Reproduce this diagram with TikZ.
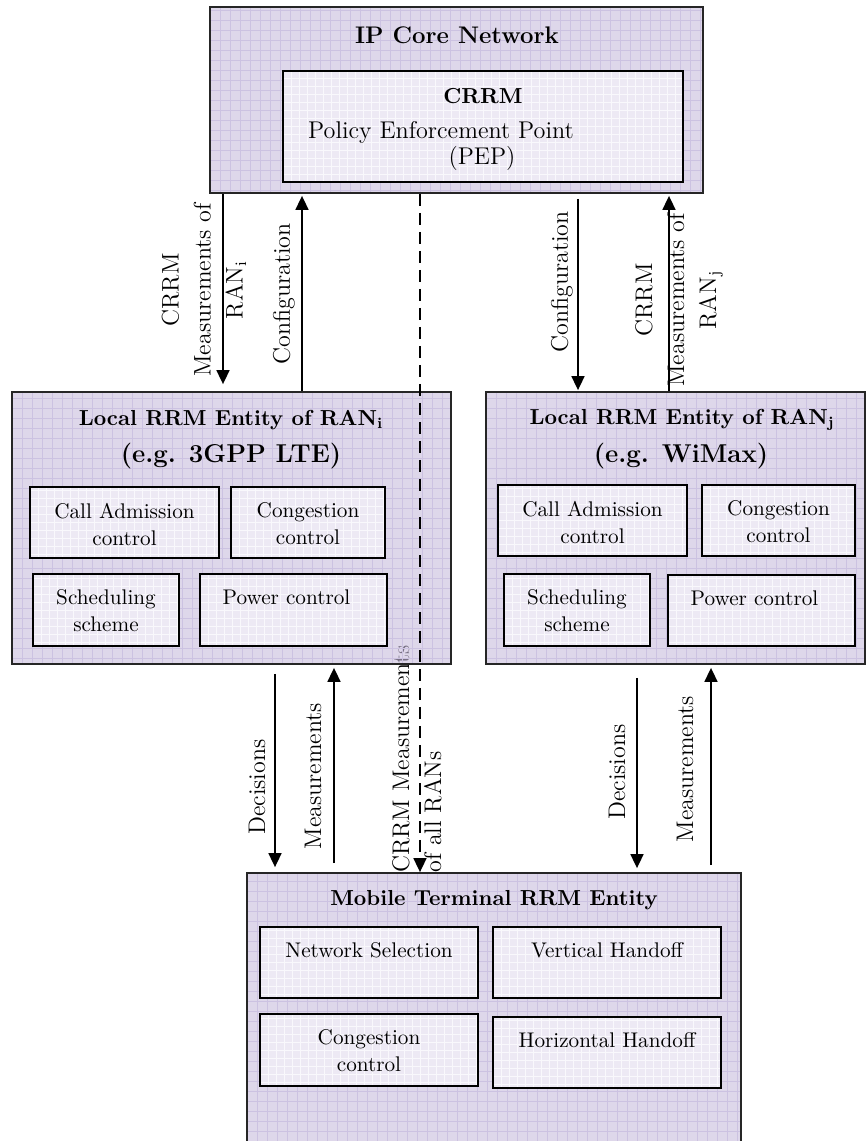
\documentclass[tikz,border=0pt]{standalone}
\usepackage{tikz}
\usetikzlibrary{arrows.meta,fit}

\definecolor{outerfill}{RGB}{200,188,220}
\definecolor{outergrid}{RGB}{204,194,225}
\definecolor{innerfill}{RGB}{237,233,244}
\definecolor{innergrid}{RGB}{249,248,252}

\newcommand{\headfont}{\fontsize{10.85}{13}\selectfont\bfseries}
\newcommand{\bigheadfont}{\fontsize{12.9}{15}\selectfont\bfseries}
\newcommand{\capfont}{\fontsize{10.6}{13.5}\selectfont}
\newcommand{\arrowfont}{\fontsize{12}{16}\selectfont}

\begin{document}
\begin{tikzpicture}[x=0.5pt,y=-0.5pt]
        \tikzset{
            style outer/.style={draw=black!85, line width=0.9pt, fill=outerfill, fill opacity=0.6, inner sep=0pt,
                path picture={\draw[outergrid, line width=0.25pt] (path picture bounding box.south west) grid[step=5pt] (path picture bounding box.north east);}},
            style inner/.style={draw=black, line width=1.4pt, fill=innerfill, inner sep=0pt,
                path picture={\draw[innergrid, line width=0.35pt] (path picture bounding box.south west) grid[step=4pt] (path picture bounding box.north east);}},
            style caption/.style={anchor=north, yshift=-8.5pt, inner sep=0pt, align=center, font=\capfont},
            style head/.style={anchor=base, inner sep=0pt, font=\headfont},
            style tag/.style={rotate=90, inner sep=0pt, align=center, font=\arrowfont},
            style flow/.style={line width=0.85pt, -{Triangle[width=6.5pt,length=7pt]}},
            style flow dashed/.style={style flow, dash pattern=on 6pt off 3.5pt}
        };
        \path[use as bounding box] (0,0) rectangle (866,1141);
        \clip (0,0) rectangle (866,1141);

        % this label sits partly under the RAN_i box
        \node[style tag, align=left, anchor=west] (all-rans) at (417,873) {CRRM Measurements\\of all RANs};

        % entities
        \node[style outer, fit={(210,7) (703,193)}] (ip) {};
        \node[style outer, fit={(12,392) (451,664)}] (lrrm-i) {};
        \node[style outer, fit={(486,392) (865,664)}] (lrrm-j) {};
        \node[style outer, fit={(247,873) (741,1150)}] (mt) {};

        \node[style inner, fit={(283,71) (683,182)}] (crrm) {};
        \node[style inner, fit={(30,487) (219,558)}, label={[style caption]north:Call Admission\\control}] (cac-i) {};
        \node[style inner, fit={(231,487) (385,558)}, label={[style caption]north:Congestion\\control}] (cc-i) {};
        \node[style inner, fit={(33,574) (179,646)}, label={[style caption]north:Scheduling\\scheme}] (sch-i) {};
        \node[style inner, fit={(200,574) (387,646)}, label={[style caption, xshift=-3.5pt]north:Power control}] (pc-i) {};
        \node[style inner, fit={(498,485) (687,556)}, label={[style caption]north:Call Admission\\control}] (cac-j) {};
        \node[style inner, fit={(702,485) (855,556)}, label={[style caption]north:Congestion\\control}] (cc-j) {};
        \node[style inner, fit={(504,574) (650,646)}, label={[style caption]north:Scheduling\\scheme}] (sch-j) {};
        \node[style inner, fit={(668,575) (855,646)}, label={[style caption, xshift=-3.5pt]north:Power control}] (pc-j) {};
        \node[style inner, fit={(260,927) (478,998)}, label={[style caption]north:Network Selection}] (ns) {};
        \node[style inner, fit={(493,927) (721,998)}, label={[style caption]north:Vertical Handoff}] (vh) {};
        \node[style inner, fit={(260,1014) (478,1086)}, label={[style caption]north:Congestion\\control}] (cc-m) {};
        \node[style inner, fit={(493,1017) (721,1088)}, label={[style caption]north:Horizontal Handoff}] (hh) {};

        % titles
        \node[style head, font=\fontsize{12}{14}\selectfont\bfseries] (ip-title) at (457,43) {IP Core Network};
        \node[style head] (crrm-title) at (483,103) {CRRM};
        \node[style head, font=\fontsize{12.1}{14}\selectfont] (pep-a) at (441,138) {Policy Enforcement Point};
        \node[style head, font=\fontsize{12.1}{14}\selectfont] (pep-b) at (482,164) {(PEP)};
        \node[style head] (lrrm-i-title) at (231,425) {Local RRM Entity of RAN\textsubscript{i}};
        \node[style head, font=\bigheadfont] (lrrm-i-sub) at (231,462) {(e.g. 3GPP LTE)};
        \node[style head] (lrrm-j-title) at (682,424) {Local RRM Entity of RAN\textsubscript{j}};
        \node[style head, font=\bigheadfont] (lrrm-j-sub) at (681,462) {(e.g. WiMax)};
        \node[style head] (mt-title) at (494,905) {Mobile Terminal RRM Entity};

        % arrow columns
        \coordinate (col-1) at (223,0);
        \coordinate (col-2) at (302,0);
        \coordinate (col-3) at (420,0);
        \coordinate (col-4) at (578,0);
        \coordinate (col-5) at (669,0);
        \coordinate (col-6) at (275,0);
        \coordinate (col-7) at (334,0);
        \coordinate (col-8) at (637,0);
        \coordinate (col-9) at (711,0);

        \draw[style flow, shorten >=3.5pt] (ip.south -| col-1) -- (lrrm-i.north -| col-1);
        \draw[style flow, shorten >=1pt] (lrrm-i.north -| col-2) -- (ip.south -| col-2);
        \draw[style flow, shorten <=2.5pt, shorten >=0.5pt] (ip.south -| col-4) -- (lrrm-j.north -| col-4);
        \draw[style flow, shorten >=1pt] (lrrm-j.north -| col-5) -- (ip.south -| col-5);
        \draw[style flow dashed] (ip.south -| col-3) -- (mt.north -| col-3);
        \draw[style flow, shorten <=4.5pt, shorten >=2.5pt] (lrrm-i.south -| col-6) -- (mt.north -| col-6);
        \draw[style flow, shorten <=4.5pt, shorten >=1.5pt] (mt.north -| col-7) -- (lrrm-i.south -| col-7);
        \draw[style flow, shorten <=6.5pt, shorten >=2pt] (lrrm-j.south -| col-8) -- (mt.north -| col-8);
        \draw[style flow, shorten <=3.5pt, shorten >=1.5pt] (mt.north -| col-9) -- (lrrm-j.south -| col-9);

        % arrow labels
        \node[style tag] (meas-i) at (204,290) {CRRM\\Measurements of\\RAN\textsubscript{i}};
        \node[style tag] (cfg-i) at (284,294) {Configuration};
        \node[style tag] (cfg-j) at (562,282) {Configuration};
        \node[style tag] (meas-j) at (679,300) {CRRM\\Measurements of\\RAN\textsubscript{j}};
        \node[style tag] (dec-i) at (257,787) {Decisions};
        \node[style tag] (up-i) at (313,776) {Measurements};
        \node[style tag] (dec-j) at (617,772) {Decisions};
        \node[style tag] (up-j) at (685,769) {Measurements};
\end{tikzpicture}
\end{document}
